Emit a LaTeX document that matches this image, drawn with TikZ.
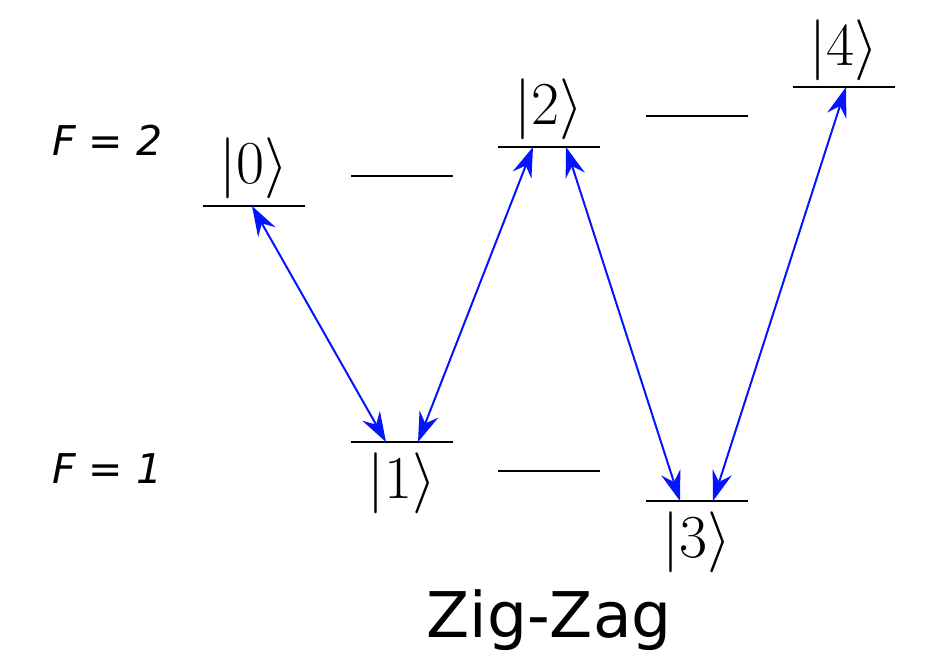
\RequirePackage{fix-cm}
\documentclass[tikz,border=0pt]{standalone}
\usepackage{fontspec}
\usetikzlibrary{arrows.meta}
\newfontfamily\labelsans{DejaVu Sans}
\definecolor{transblue}{RGB}{5,20,255}
\begin{document}
\begin{tikzpicture}[x=0.5pt,y=-0.5pt,
  level/.style={line width=1.3pt,black},
  transition/.style={transblue,line width=1pt,
    {Stealth[length=15pt,width=10pt,inset=5pt]}-{Stealth[length=15pt,width=10pt,inset=5pt]}},
  ket/.style={inner sep=0pt,anchor=base,font=\fontsize{30.5}{36}\selectfont},
  flabel/.style={inner sep=0pt,anchor=base west,font=\labelsans\itshape\fontsize{20.5}{24}\selectfont},
  title/.style={inner sep=0pt,anchor=base,font=\labelsans\fontsize{31.5}{38}\selectfont}]
\useasboundingbox (0,0) rectangle (941,650);

% energy levels (F = 2 row, stepping up to the right)
\coordinate (l0a) at (203,206); \coordinate (l0b) at (305,206);
\coordinate (m1a) at (351,176); \coordinate (m1b) at (453,176);
\coordinate (l2a) at (498,147); \coordinate (l2b) at (600,147);
\coordinate (m3a) at (646,116); \coordinate (m3b) at (748,116);
\coordinate (l4a) at (793,87);  \coordinate (l4b) at (895,87);
% energy levels (F = 1 row)
\coordinate (l1a) at (351,442); \coordinate (l1b) at (453,442);
\coordinate (m2a) at (498,471); \coordinate (m2b) at (600,471);
\coordinate (l3a) at (646,501); \coordinate (l3b) at (748,501);

\foreach \a/\b in {l0a/l0b,m1a/m1b,l2a/l2b,m3a/m3b,l4a/l4b,l1a/l1b,m2a/m2b,l3a/l3b}
  \draw[level] (\a) -- (\b);

% state labels
\node[ket] (k0) at (254,183) {$|0\rangle$};
\node[ket] (k2) at (549,124) {$|2\rangle$};
\node[ket] (k4) at (844,65)  {$|4\rangle$};
\node[ket] (k1) at (402,498) {$|1\rangle$};
\node[ket] (k3) at (697,557) {$|3\rangle$};

% hyperfine manifold labels
\node[flabel] (f2) at (52,155) {F = 2};
\node[flabel] (f1) at (52,483) {F = 1};

% coupling end points on the levels
\coordinate (t0)  at (252,206);
\coordinate (t1a) at (386,442);
\coordinate (t1b) at (418,442);
\coordinate (t2a) at (533,147);
\coordinate (t2b) at (566,147);
\coordinate (t3a) at (680,501);
\coordinate (t3b) at (713,501);
\coordinate (t4)  at (846,87);

\draw[transition] (t0) -- (t1a);
\draw[transition] (t1b) -- (t2a);
\draw[transition] (t2b) -- (t3a);
\draw[transition] (t3b) -- (t4);

\node[title] (zz) at (549,637) {Zig-Zag};
\end{tikzpicture}
\end{document}
